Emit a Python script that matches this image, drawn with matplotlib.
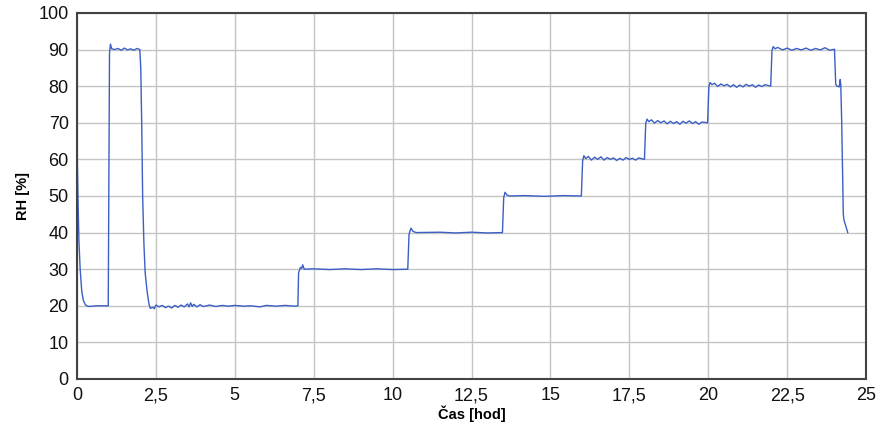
import matplotlib.pyplot as plt
from matplotlib.ticker import MultipleLocator, FuncFormatter

# time [h] and relative humidity [%]
time_h = [0.00, 0.03, 0.06, 0.10, 0.15, 0.20, 0.25, 0.30, 0.40, 0.60, 0.80, 0.99,
          1.03, 1.06, 1.10, 1.20, 1.30, 1.40, 1.50, 1.60, 1.70, 1.80, 1.90, 1.99,
          2.02, 2.05, 2.08, 2.12, 2.16, 2.22, 2.28, 2.32, 2.40, 2.45, 2.50, 2.60,
          2.70, 2.80, 2.90, 3.00, 3.10, 3.20, 3.30, 3.40, 3.50, 3.55, 3.60, 3.65,
          3.70, 3.80, 3.90, 4.00, 4.20, 4.40, 4.60, 4.80, 5.00, 5.30, 5.50, 5.80,
          6.00, 6.30, 6.60, 6.90, 7.00,
          7.02, 7.08, 7.12, 7.15, 7.20, 7.50, 8.00, 8.50, 9.00, 9.50, 10.00, 10.48,
          10.52, 10.58, 10.65, 10.75, 11.50, 12.00, 12.50, 13.00, 13.48,
          13.52, 13.56, 13.62, 13.70, 14.20, 14.80, 15.40, 15.98,
          16.02, 16.06, 16.12, 16.20, 16.30, 16.40, 16.50, 16.60, 16.70, 16.80,
          16.90, 17.00, 17.10, 17.20, 17.30, 17.40, 17.50, 17.60, 17.70, 17.80, 17.98,
          18.02, 18.06, 18.12, 18.20, 18.30, 18.40, 18.50, 18.60, 18.70, 18.80,
          18.90, 19.00, 19.10, 19.20, 19.30, 19.40, 19.50, 19.60, 19.70, 19.80, 19.98,
          20.02, 20.06, 20.12, 20.20, 20.30, 20.40, 20.50, 20.60, 20.70, 20.80,
          20.90, 21.00, 21.10, 21.20, 21.30, 21.40, 21.50, 21.60, 21.70, 21.80, 21.98,
          22.02, 22.06, 22.12, 22.20, 22.35, 22.50, 22.65, 22.80, 22.95, 23.10,
          23.25, 23.40, 23.55, 23.70, 23.85, 24.00,
          24.04, 24.08, 24.15, 24.18, 24.20, 24.23, 24.26, 24.28, 24.30, 24.35, 24.42]
rh_pct = [65, 50, 38, 30, 24, 21.5, 20.5, 20.0, 19.8, 20.0, 20.0, 20.0,
          89, 91.5, 90.2, 90.0, 90.3, 89.8, 90.4, 89.9, 90.2, 89.8, 90.3, 90.0,
          85, 70, 50, 37, 29, 24, 20.5, 19.3, 19.6, 19.2, 20.2, 19.7,
          20.1, 19.5, 19.9, 19.4, 20.1, 19.6, 20.2, 19.7, 20.5, 19.7, 20.8, 19.8,
          20.4, 19.7, 20.3, 19.8, 20.2, 19.8, 20.1, 19.9, 20.1, 19.9, 20.0, 19.7,
          20.1, 19.9, 20.1, 19.9, 20.0,
          29, 30.5, 30.2, 31.2, 30.0, 30.1, 29.9, 30.1, 29.9, 30.1, 29.9, 30.0,
          39.5, 41.2, 40.3, 40.0, 40.1, 39.9, 40.1, 39.9, 40.0,
          49.5, 51.0, 50.3, 50.0, 50.1, 49.9, 50.1, 50.0,
          59.5, 61.0, 60.2, 60.8, 59.8, 60.6, 60.0, 60.7, 59.8, 60.5,
          60.0, 60.4, 59.7, 60.3, 59.8, 60.5, 60.0, 60.3, 59.8, 60.4, 60.0,
          69.8, 71.0, 70.3, 70.8, 69.9, 70.6, 70.0, 70.5, 69.7, 70.4,
          69.8, 70.3, 69.6, 70.4, 69.9, 70.5, 69.8, 70.3, 69.6, 70.2, 70.0,
          79.8, 81.0, 80.4, 80.8, 79.9, 80.6, 80.1, 80.5, 79.8, 80.4,
          79.7, 80.3, 79.8, 80.5, 80.0, 80.4, 79.7, 80.3, 79.9, 80.4, 80.0,
          89.8, 90.8, 90.2, 90.6, 89.9, 90.4, 89.8, 90.3, 89.9, 90.4,
          89.8, 90.3, 89.9, 90.5, 89.8, 90.1,
          80.5, 80.0, 79.8, 81.8, 80.5, 70, 55, 45, 43.5, 42, 40]

plt.rcParams['font.family'] = ['Liberation Sans', 'DejaVu Sans']

fig = plt.figure(figsize=(8.81, 4.32), dpi=100)
ax = fig.add_axes([0.0874, 0.1227, 0.8956, 0.8473])

ax.plot(time_h, rh_pct, color='#3b5fc4', lw=1.0)

ax.set_xlim(0, 25)
ax.set_ylim(0, 100)
ax.xaxis.set_major_locator(MultipleLocator(2.5))
ax.yaxis.set_major_locator(MultipleLocator(10))
ax.xaxis.set_major_formatter(FuncFormatter(lambda v, p: ('%g' % v).replace('.', ',')))
ax.grid(True, color='#c4c4c4', lw=1.0)
ax.set_axisbelow(True)
for s in ax.spines.values():
    s.set_color('#444444')
    s.set_linewidth(1.5)
ax.tick_params(length=0, labelsize=13, pad=6, colors='#111111')

ax.set_ylabel('RH [%]', fontsize=10.5, fontweight='bold', labelpad=6)
ax.set_xlabel('Čas [hod]', fontsize=10.5, fontweight='bold', labelpad=1)

plt.savefig('out.png', dpi=100)
